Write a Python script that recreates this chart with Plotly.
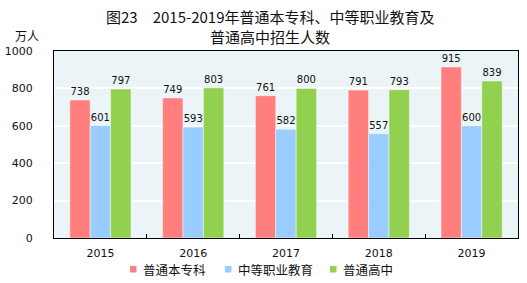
import plotly.graph_objects as go

years = ["2015", "2016", "2017", "2018", "2019"]
series_names = ["普通本专科", "中等职业教育", "普通高中"]
higher_edu = [738, 749, 761, 791, 915]
vocational = [601, 593, 582, 557, 600]
high_school = [797, 803, 800, 793, 839]
colors = ["#FF7F7F", "#99CCFF", "#92D050"]
y_ticks = [0, 200, 400, 600, 800, 1000]

fig = go.Figure()
for name, vals, col in zip(series_names, [higher_edu, vocational, high_school], colors):
    fig.add_trace(go.Bar(
        x=years, y=vals, name=name,
        marker=dict(color=col, line=dict(color="rgba(255,255,255,0.6)", width=0.8)),
        text=[str(v) for v in vals], textposition="outside",
        textfont=dict(family="DejaVu Sans", size=10, color="#111111"),
        cliponaxis=False, showlegend=False,
    ))

W, H = 527, 283
L, R, T, B = 54, 9, 51, 45

fig.update_layout(
    width=W, height=H,
    margin=dict(l=L, r=R, t=T, b=B, autoexpand=False),
    paper_bgcolor="white",
    plot_bgcolor="#EBF5F8",
    barmode="group", bargap=0.34, bargroupgap=0,
    font=dict(family="DejaVu Sans", size=11, color="#111111"),
    showlegend=False,
    xaxis=dict(type="category", tickson="boundaries", ticks="inside", ticklen=4,
               tickcolor="black", showline=True, linecolor="black", linewidth=1,
               mirror=True, showgrid=False, ticklabelstandoff=5,
               tickfont=dict(family="DejaVu Sans", size=11, color="#111111")),
    yaxis=dict(range=[0, 1000], tickvals=y_ticks, showline=True, linecolor="black",
               linewidth=1, mirror=True, gridcolor="white", gridwidth=1.5,
               ticks="", ticklabelstandoff=18, zeroline=False,
               tickfont=dict(family="DejaVu Sans", size=11, color="#111111")),
)

def px(xp):
    return (xp - L) / (W - L - R)

def py(yp):
    return 1 - (yp - T) / (H - T - B)

fig.add_annotation(x=px(270), y=py(17), xref="paper", yref="paper",
                   text="图23　2015-2019年普通本专科、中等职业教育及", showarrow=False,
                   font=dict(family="Noto Sans CJK SC", size=15, color="#111111"),
                   xanchor="center", yanchor="middle")
fig.add_annotation(x=px(270), y=py(37), xref="paper", yref="paper",
                   text="普通高中招生人数", showarrow=False,
                   font=dict(family="Noto Sans CJK SC", size=15, color="#111111"),
                   xanchor="center", yanchor="middle")
fig.add_annotation(x=px(27), y=py(35), xref="paper", yref="paper",
                   text="万人", showarrow=False,
                   font=dict(family="Noto Sans CJK SC", size=12, color="#111111"),
                   xanchor="center", yanchor="middle")

# legend (manual, tighter spacing like the reference)
legend_sq_x = [130, 225, 330]
for name, col, sx in zip(series_names, colors, legend_sq_x):
    fig.add_shape(type="rect", xref="paper", yref="paper",
                  x0=px(sx), x1=px(sx + 6.5), y0=py(272.5), y1=py(266),
                  fillcolor=col, line=dict(width=0))
    fig.add_annotation(x=px(sx + 11), y=py(269), xref="paper", yref="paper",
                       text=name, showarrow=False,
                       font=dict(family="Noto Sans CJK SC", size=12.5, color="#111111"),
                       xanchor="left", yanchor="middle")

fig.write_html("out.html")
